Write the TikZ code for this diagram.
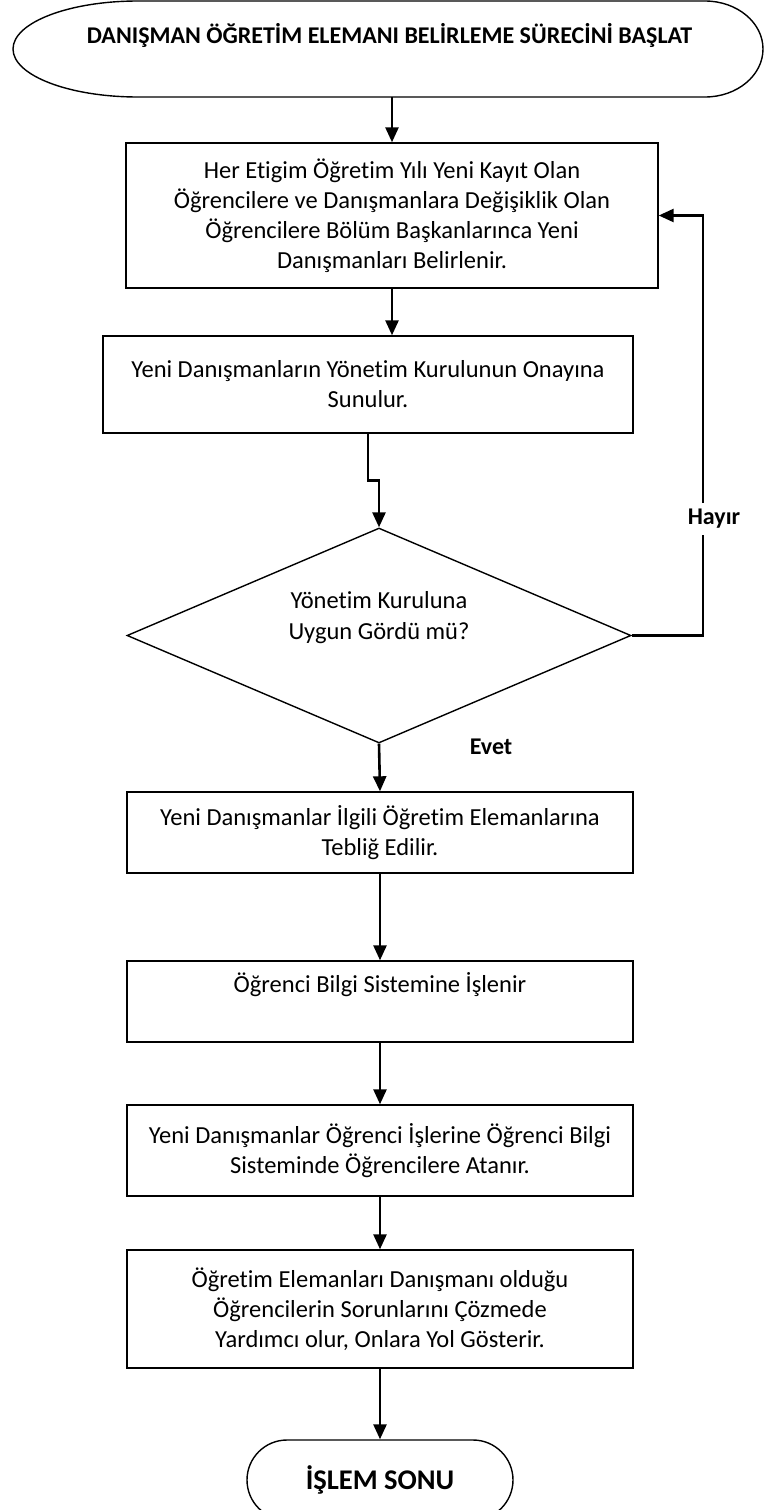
\documentclass[tikz,border=0pt]{standalone}
\usepackage{fontspec}
\setmainfont{Carlito}[Ligatures=NoCommon]
\usetikzlibrary{arrows.meta,shapes.geometric,shapes.misc}

\begin{document}
\begin{tikzpicture}[x=1pt,y=1pt,
  box/.style={draw=black, line width=1.4pt, rectangle, inner sep=0pt, align=center,
              font=\fontsize{24.5}{30}\selectfont},
  decision/.style={draw=black, diamond, aspect=2.35, line width=1.4pt, inner sep=0pt, align=center,
              font=\fontsize{24.5}{31}\selectfont},
  terminal/.style={draw=black, rounded rectangle, line width=1.4pt, inner sep=0pt,
              font=\bfseries\fontsize{28.5}{34}\selectfont},
  flow/.style={line width=2.6pt, -{Triangle[length=15pt,width=13pt]}},
  wire/.style={line width=2.6pt},
  lbl/.style={font=\bfseries\fontsize{24}{28}\selectfont, inner sep=0pt}
]
\useasboundingbox (0,0) rectangle (764,-1510);

% start terminal: flattened oval with unequal end caps
\node[minimum width=750pt, minimum height=96pt, inner sep=0pt] (start) at (388,-49) {};
\draw[line width=1.4pt] (138,-1) -- (705,-1)
  arc[start angle=90, end angle=-90, x radius=58, y radius=48]
  -- (138,-97)
  arc[start angle=270, end angle=90, x radius=125, y radius=48] -- cycle;
\node[lbl, anchor=base] (title) at (389.5,-43) {DANIŞMAN ÖĞRETİM ELEMANI BELİRLEME SÜRECİNİ BAŞLAT};

% process steps
\node[box, minimum width=532pt, minimum height=145pt] (b1) at (392,-215.5)
  {Her Etigim Öğretim Yılı Yeni Kayıt Olan\\Öğrencilere ve Danışmanlara Değişiklik Olan\\Öğrencilere Bölüm Başkanlarınca Yeni\\Danışmanları Belirlenir.};
\node[box, minimum width=530pt, minimum height=97pt] (b2) at (368,-384.5)
  {Yeni Danışmanların Yönetim Kurulunun Onayına\\Sunulur.};
\node[decision, minimum width=504pt, minimum height=215pt] (dec) at (379,-635.5)
  {Yönetim Kuruluna\\Uygun Gördü mü?\\\strut};
\node[box, minimum width=506pt, minimum height=81pt] (b3) at (380,-832.5)
  {Yeni Danışmanlar İlgili Öğretim Elemanlarına\\Tebliğ Edilir.};
\node[box, minimum width=506pt, minimum height=81pt] (b4) at (380,-1001.5)
  {Öğrenci Bilgi Sistemine İşlenir\\\strut};
\node[box, minimum width=506pt, minimum height=91pt] (b5) at (380,-1150.5)
  {Yeni Danışmanlar Öğrenci İşlerine Öğrenci Bilgi\\Sisteminde Öğrencilere Atanır.};
\node[box, minimum width=506pt, minimum height=118pt] (b6) at (380,-1309)
  {Öğretim Elemanları Danışmanı olduğu\\Öğrencilerin Sorunlarını Çözmede\\Yardımcı olur, Onlara Yol Gösterir.};
\node[terminal, minimum width=266pt, minimum height=80pt] (end) at (380,-1480) {İŞLEM SONU};

% branch labels
\node[lbl] (hayir) at (714,-519) {Hayır};
\node[lbl] (evet) at (491,-747) {Evet};
\coordinate (hlow) at (703,-535);
\coordinate (hhigh) at (703,-503);

% connectors
\draw[flow] (b1.north |- start.south) -- (b1.north);
\draw[flow] (b1.south) -- (b1.south |- b2.north);
\draw[flow] (b2.south) -- ++(0,-47) -| (dec.north);
\draw[wire] (dec.east) -| (hlow);
\draw[flow] (hhigh) |- (b1.east);
\draw[flow] (dec.south) -- (b3.north);
\draw[flow] (b3.south) -- (b4.north);
\draw[flow] (b4.south) -- (b5.north);
\draw[flow] (b5.south) -- (b6.north);
\draw[flow] (b6.south) -- (end.north);
\end{tikzpicture}
\end{document}
